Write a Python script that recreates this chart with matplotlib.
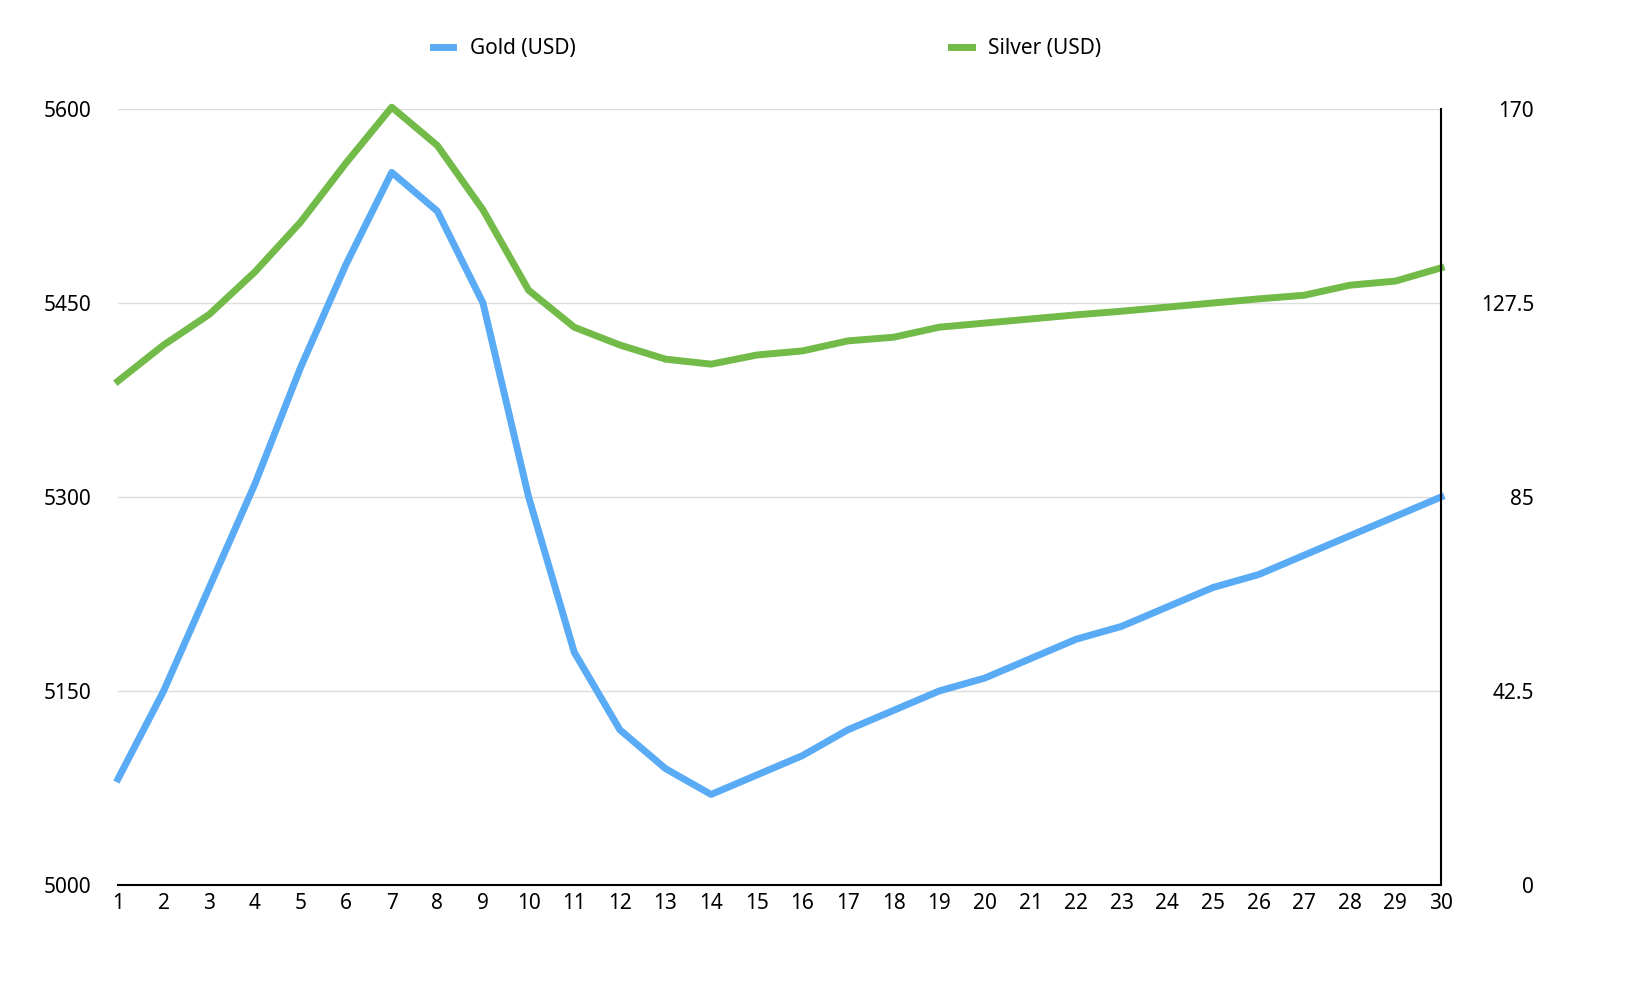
import matplotlib.pyplot as plt

plt.rcParams['font.family'] = ['Noto Sans', 'DejaVu Sans']

days = list(range(1, 31))
gold = [5082, 5150, 5230, 5310, 5400, 5480, 5551, 5521, 5450, 5300,
        5180, 5120, 5090, 5070, 5085, 5100, 5120, 5135, 5150, 5160,
        5175, 5190, 5200, 5215, 5230, 5240, 5255, 5270, 5285, 5300]
silver = [110.4, 118.3, 125, 134.3, 145.2, 158.2, 170.4, 162, 147.9, 130.3,
          122.2, 118.3, 115.2, 114.1, 116.1, 117, 119.2, 120, 122.2, 123.1,
          124, 124.9, 125.7, 126.6, 127.5, 128.4, 129.2, 131.4, 132.3, 135.2]

fig = plt.figure(figsize=(16.32, 9.82), dpi=100)
ax = fig.add_axes([0.0723, 0.0988, 0.8107, 0.7902])
ax2 = ax.twinx()

l1, = ax.plot(days, gold, color='#5aabf5', lw=5, label='Gold (USD)', clip_on=False)
l2, = ax2.plot(days, silver, color='#72bb48', lw=5, label='Silver (USD)', clip_on=False)

ax.set_xlim(1, 30)
ax.set_ylim(5000, 5600)
ax.set_yticks([5000, 5150, 5300, 5450, 5600])
ax2.set_ylim(0, 170)
ax2.set_yticks([0, 42.5, 85, 127.5, 170])
ax2.set_yticklabels(['0', '42.5', '85', '127.5', '170'])
ax.set_xticks(days)
ax.grid(axis='y', color='#dddddd', lw=1)
ax.set_axisbelow(True)

for a in (ax, ax2):
    a.spines['top'].set_visible(False)
    a.spines['left'].set_visible(False)
    a.tick_params(labelsize=15, length=0)
ax.spines['right'].set_visible(False)
ax.spines['bottom'].set_linewidth(1.5)
ax2.spines['right'].set_linewidth(1.5)
ax2.spines['bottom'].set_visible(False)
ax.tick_params(axis='x', pad=6)
ax.tick_params(axis='y', pad=19)
ax2.tick_params(axis='y', pad=67)
for t in ax2.get_yticklabels():
    t.set_horizontalalignment('right')

fig.legend(handles=[l1, l2], loc='upper center', bbox_to_anchor=(0.47, 0.98),
           ncol=2, frameon=False, fontsize=15, handlelength=1.0,
           columnspacing=18, handletextpad=0.8)

fig.savefig('out.png', dpi=100)
